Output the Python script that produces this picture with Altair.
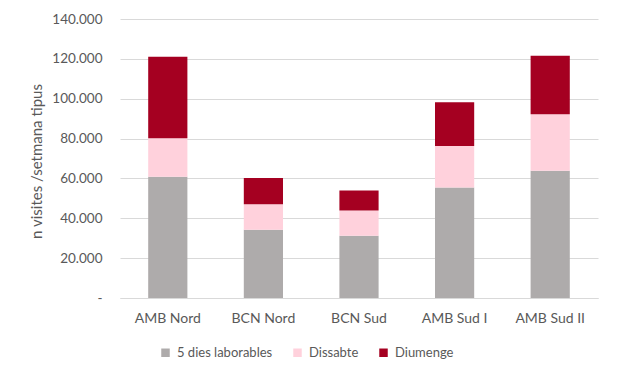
import altair as alt
import pandas as pd

categories = ["AMB Nord", "BCN Nord", "BCN Sud", "AMB Sud I", "AMB Sud II"]
series = ["5 dies laborables", "Dissabte", "Diumenge"]
laborables = [60800, 34200, 31200, 55400, 63800]
dissabte = [19400, 12900, 12700, 20900, 28400]
diumenge = [40800, 13100, 10000, 21900, 29400]
colors = ["#AEABAB", "#FFD1DC", "#A50021"]
y_ticks = [0, 20000, 40000, 60000, 80000, 100000, 120000, 140000]

rows = []
for i, c in enumerate(categories):
    for k, (s, vals) in enumerate(zip(series, [laborables, dissabte, diumenge])):
        rows.append({"zona": c, "serie": s, "valor": vals[i], "ordre": k})
df = pd.DataFrame(rows)

FONT = "Lato"
GREY = "#595959"

chart = alt.Chart(df).mark_bar().encode(
    x=alt.X("zona:N", sort=categories, title=None,
            scale=alt.Scale(paddingInner=0.59, paddingOuter=0.295),
            axis=alt.Axis(labelAngle=0, ticks=False, domain=True, domainColor="#d9d9d9",
                          domainWidth=1, labelPadding=13, labelFontSize=14,
                          labelColor=GREY, labelFont=FONT)),
    y=alt.Y("valor:Q", stack="zero", title="n visites /setmana tipus",
            scale=alt.Scale(domain=[0, 140000], nice=False),
            axis=alt.Axis(values=y_ticks, ticks=False, domain=False, gridColor="#d9d9d9",
                          gridWidth=1, labelPadding=18, labelFontSize=13.5, labelColor=GREY,
                          labelFont=FONT, titleFont=FONT, titleFontSize=15,
                          titleFontWeight="normal", titleColor=GREY, titleX=-76, titleY=142,
                          labelExpr="datum.value == 0 ? '-' : replace(format(datum.value, ',.0f'), ',', '.')")),
    color=alt.Color("serie:N", sort=series,
                    scale=alt.Scale(domain=series, range=colors),
                    legend=alt.Legend(title=None, orient="none", direction="horizontal",
                                      legendX=39, legendY=327, symbolType="square",
                                      symbolSize=72, symbolStrokeWidth=0, labelFontSize=13,
                                      labelColor=GREY, labelFont=FONT, columnPadding=18,
                                      labelOffset=5)),
    order=alt.Order("ordre:Q"),
).properties(
    width=478, height=279,
    autosize=alt.AutoSizeParams(type="none"),
    padding={"left": 112, "top": 11, "right": 10, "bottom": 70},
).configure_view(stroke=None)

chart.save("out.html", embed_options={"renderer": "svg", "actions": False})
